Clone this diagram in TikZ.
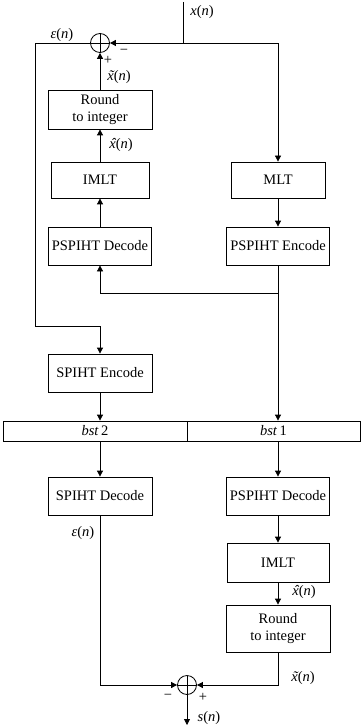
\documentclass[tikz,border=0pt]{standalone}
\usepackage{fontspec}
\setmainfont{Liberation Serif}
\usetikzlibrary{arrows.meta}
\newcommand{\xtil}{\textit{\rlap{\hspace{0.10em}˜}x}}
\newcommand{\xhat}{\textit{\rlap{\hspace{0.10em}ˆ}x}}
\begin{document}
\begin{tikzpicture}[x=1pt,y=-1pt,
  font=\fontsize{14.5}{16.5}\selectfont,
  box/.style={draw,line width=0.8pt,inner sep=1pt,align=center},
  arr/.style={line width=0.8pt,-{Triangle[length=6pt,width=6pt]}},
  ln/.style={line width=0.8pt},
  sumnode/.style={circle,draw,line width=0.8pt,minimum size=19pt,inner sep=0pt,
    path picture={\draw[line width=0.6pt] (path picture bounding box.north) -- (path picture bounding box.south)
      (path picture bounding box.west) -- (path picture bounding box.east);}},
  lbl/.style={inner sep=0pt}]
\useasboundingbox (0,0) rectangle (362,727);
% top part
\node[sumnode] (sum1) at (100,43) {};
\coordinate (xin) at (183,2);
\coordinate (jx) at (183,43);
\node[box,minimum width=104pt,minimum height=39pt] (round1) at (100,109.5) {Round\\to integer};
\node[box,minimum width=98pt,minimum height=36pt] (imlt1) at (100,180) {IMLT};
\node[box,minimum width=103pt,minimum height=38pt] (psd1) at (100,246) {PSPIHT Decode};
\node[box,minimum width=94pt,minimum height=36pt] (mlt) at (278,180) {MLT};
\node[box,minimum width=103pt,minimum height=38pt] (pse) at (278,246) {PSPIHT Encode};
\node[box,minimum width=104pt,minimum height=38pt] (spe) at (100,373) {SPIHT Encode};
\node[box,minimum width=184pt,minimum height=20pt,inner sep=0pt] (bst2) at (95,431) {\textit{bst}\,2};
\node[box,minimum width=173pt,minimum height=20pt,inner sep=0pt] (bst1) at (273.5,431) {\textit{bst}\,1};
\node[box,minimum width=104pt,minimum height=38pt] (spd) at (100,496) {SPIHT Decode};
\node[box,minimum width=103pt,minimum height=38pt] (psd2) at (278,496) {PSPIHT Decode};
\node[box,minimum width=102pt,minimum height=39pt] (imlt2) at (278,562.5) {IMLT};
\node[box,minimum width=104pt,minimum height=47pt] (round2) at (278,628.5) {Round\\to integer};
\node[sumnode] (sum2) at (187,685) {};
\coordinate (sout) at (187,725);
\coordinate (lc) at (35,326);
\coordinate (br) at (278,293);
% connectors
\draw[ln] (xin) -- (jx);
\draw[arr] (jx) -- (sum1.east);
\draw[arr] (jx) -| (mlt.north);
\draw[arr] (round1.north) -- (sum1.south);
\draw[arr] (imlt1.north) -- (round1.south);
\draw[arr] (psd1.north) -- (imlt1.south);
\draw[arr] (mlt.south) -- (pse.north);
\draw[ln] (pse.south) -- (br);
\draw[arr] (br) -| (psd1.south);
\draw[arr] (br) -- (br |- bst1.north);
\draw[arr] (sum1.west) -| (lc) -| (spe.north);
\draw[arr] (spe.south) -- (spe.south |- bst2.north);
\draw[arr] (spd.north |- bst2.south) -- (spd.north);
\draw[arr] (psd2.north |- bst1.south) -- (psd2.north);
\draw[arr] (psd2.south) -- (imlt2.north);
\draw[arr] (imlt2.south) -- (round2.north);
\draw[arr] (spd.south) |- (sum2.west);
\draw[arr] (round2.south) |- (sum2.east);
\draw[arr] (sum2.south) -- (sout);
% labels
\node[lbl] (l1) at (202,12) {\textit{x}(\textit{n})};
\node[lbl] (l2) at (62,35) {\textit{ε}(\textit{n})};
\node[lbl] (l3) at (108,60) {+};
\node[lbl] (l4) at (124,52) {−};
\node[lbl] (l5) at (119,77) {\xtil(\textit{n})};
\node[lbl] (l6) at (121,145) {\xhat(\textit{n})};
\node[lbl] (l7) at (83,533) {\textit{ε}(\textit{n})};
\node[lbl] (l8) at (304,592) {\xhat(\textit{n})};
\node[lbl] (l9) at (303,678) {\xtil(\textit{n})};
\node[lbl] (l10) at (168,697) {−};
\node[lbl] (l11) at (203,697) {+};
\node[lbl] (l12) at (209,718) {\textit{s}(\textit{n})};
\end{tikzpicture}
\end{document}
